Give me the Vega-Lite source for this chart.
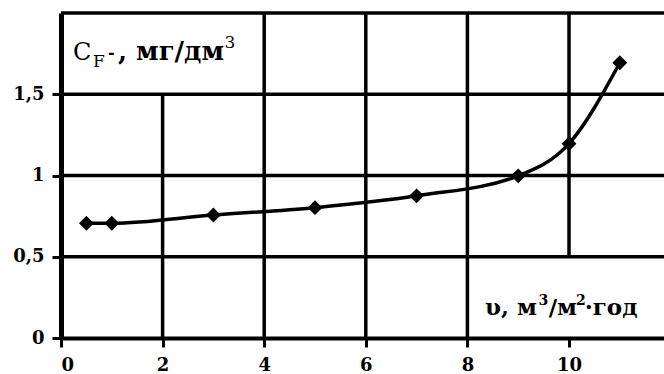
{
  "$schema": "https://vega.github.io/schema/vega-lite/v6.json",
  "autosize": {"type": "none"},
  "padding": {"left": 61, "top": 13, "right": 0, "bottom": 36},
  "width": 603,
  "height": 325,
  "background": "white",
  "config": {"view": {"stroke": null}, "font": "DejaVu Serif"},
  "datasets": {
    "pts": [
      {"x": 0.5, "y": 0.706},
      {"x": 1, "y": 0.706},
      {"x": 3, "y": 0.757},
      {"x": 5, "y": 0.802},
      {"x": 7, "y": 0.875},
      {"x": 9, "y": 0.998},
      {"x": 10, "y": 1.196},
      {"x": 11, "y": 1.694}
    ],
    "hgrid": [{"y": 0.5}, {"y": 1}, {"y": 1.5}, {"y": 2}],
    "vgrid": [
      {"x": 2, "y": 0, "y2": 1.5},
      {"x": 4, "y": 0, "y2": 2},
      {"x": 6, "y": 0, "y2": 2},
      {"x": 8, "y": 0, "y2": 2},
      {"x": 10, "y": 0.5, "y2": 2}
    ]
  },
  "layer": [
    {
      "data": {"name": "hgrid"},
      "mark": {"type": "rule", "color": "black", "strokeWidth": 3.5},
      "encoding": {
        "y": {
          "field": "y", "type": "quantitative", "title": null,
          "scale": {"domain": [0, 2], "nice": false, "zero": false},
          "axis": {
            "values": [0, 0.5, 1, 1.5],
            "labelExpr": "replace(toString(datum.value), '.', ',')",
            "labelFont": "DejaVu Serif", "labelFontWeight": "bold", "labelFontSize": 18,
            "labelColor": "black", "labelPadding": 8,
            "tickColor": "black", "tickWidth": 3, "tickSize": 9,
            "domainColor": "black", "domainWidth": 5, "grid": false
          }
        }
      }
    },
    {
      "data": {"name": "vgrid"},
      "mark": {"type": "rule", "color": "black", "strokeWidth": 3.5},
      "encoding": {
        "x": {
          "field": "x", "type": "quantitative", "title": null,
          "scale": {"domain": [0, 11.87], "nice": false, "zero": false},
          "axis": {
            "values": [0, 2, 4, 6, 8, 10],
            "labelFont": "DejaVu Serif", "labelFontWeight": "bold", "labelFontSize": 18,
            "labelColor": "black", "labelPadding": 9,
            "tickColor": "black", "tickWidth": 3, "tickSize": 9,
            "domainColor": "black", "domainWidth": 4, "grid": false
          }
        },
        "y": {"field": "y", "type": "quantitative", "title": null},
        "y2": {"field": "y2"}
      }
    },
    {
      "data": {"name": "pts"},
      "mark": {"type": "line", "color": "black", "strokeWidth": 3.5, "interpolate": "monotone"},
      "encoding": {
        "x": {"field": "x", "type": "quantitative", "title": null},
        "y": {"field": "y", "type": "quantitative", "title": null}
      }
    },
    {
      "data": {"name": "pts"},
      "mark": {"type": "point", "shape": "diamond", "filled": true, "color": "black", "size": 220, "opacity": 1},
      "encoding": {
        "x": {"field": "x", "type": "quantitative", "title": null},
        "y": {"field": "y", "type": "quantitative", "title": null}
      }
    },
    {
      "data": {"values": [{}]},
      "mark": {"type": "text", "text": "C", "font": "DejaVu Serif", "fontSize": 24, "align": "left", "baseline": "alphabetic", "color": "black"},
      "encoding": {"x": {"datum": 0.236}, "y": {"datum": 1.711}}
    },
    {
      "data": {"values": [{}]},
      "mark": {"type": "text", "text": "F", "font": "DejaVu Serif", "fontSize": 17, "align": "left", "baseline": "alphabetic", "color": "black"},
      "encoding": {"x": {"datum": 0.63}, "y": {"datum": 1.665}}
    },
    {
      "data": {"values": [{}]},
      "mark": {"type": "text", "text": "-", "font": "DejaVu Serif", "fontSize": 16, "fontWeight": "bold", "align": "left", "baseline": "alphabetic", "color": "black"},
      "encoding": {"x": {"datum": 0.925}, "y": {"datum": 1.726}}
    },
    {
      "data": {"values": [{}]},
      "mark": {"type": "text", "text": ", мг/дм", "font": "DejaVu Serif", "fontSize": 26, "fontWeight": "bold", "align": "left", "baseline": "alphabetic", "color": "black"},
      "encoding": {"x": {"datum": 1.122}, "y": {"datum": 1.711}}
    },
    {
      "data": {"values": [{}]},
      "mark": {"type": "text", "text": "3", "font": "DejaVu Serif", "fontSize": 17, "align": "left", "baseline": "alphabetic", "color": "black"},
      "encoding": {"x": {"datum": 3.22}, "y": {"datum": 1.785}}
    },
    {
      "data": {"values": [{}]},
      "mark": {"type": "text", "text": "υ, м", "font": "DejaVu Serif", "fontSize": 23, "fontWeight": "bold", "align": "left", "baseline": "alphabetic", "color": "black"},
      "encoding": {"x": {"datum": 8.346}, "y": {"datum": 0.1415}}
    },
    {
      "data": {"values": [{}]},
      "mark": {"type": "text", "text": "3", "font": "DejaVu Serif", "fontSize": 14, "fontWeight": "bold", "align": "left", "baseline": "alphabetic", "color": "black"},
      "encoding": {"x": {"datum": 9.4}, "y": {"datum": 0.203}}
    },
    {
      "data": {"values": [{}]},
      "mark": {"type": "text", "text": "/м", "font": "DejaVu Serif", "fontSize": 23, "fontWeight": "bold", "align": "left", "baseline": "alphabetic", "color": "black"},
      "encoding": {"x": {"datum": 9.6}, "y": {"datum": 0.1415}}
    },
    {
      "data": {"values": [{}]},
      "mark": {"type": "text", "text": "2", "font": "DejaVu Serif", "fontSize": 14, "fontWeight": "bold", "align": "left", "baseline": "alphabetic", "color": "black"},
      "encoding": {"x": {"datum": 10.14}, "y": {"datum": 0.203}}
    },
    {
      "data": {"values": [{}]},
      "mark": {"type": "text", "text": "·год", "font": "DejaVu Serif", "fontSize": 23, "fontWeight": "bold", "align": "left", "baseline": "alphabetic", "color": "black"},
      "encoding": {"x": {"datum": 10.31}, "y": {"datum": 0.1415}}
    }
  ]
}
